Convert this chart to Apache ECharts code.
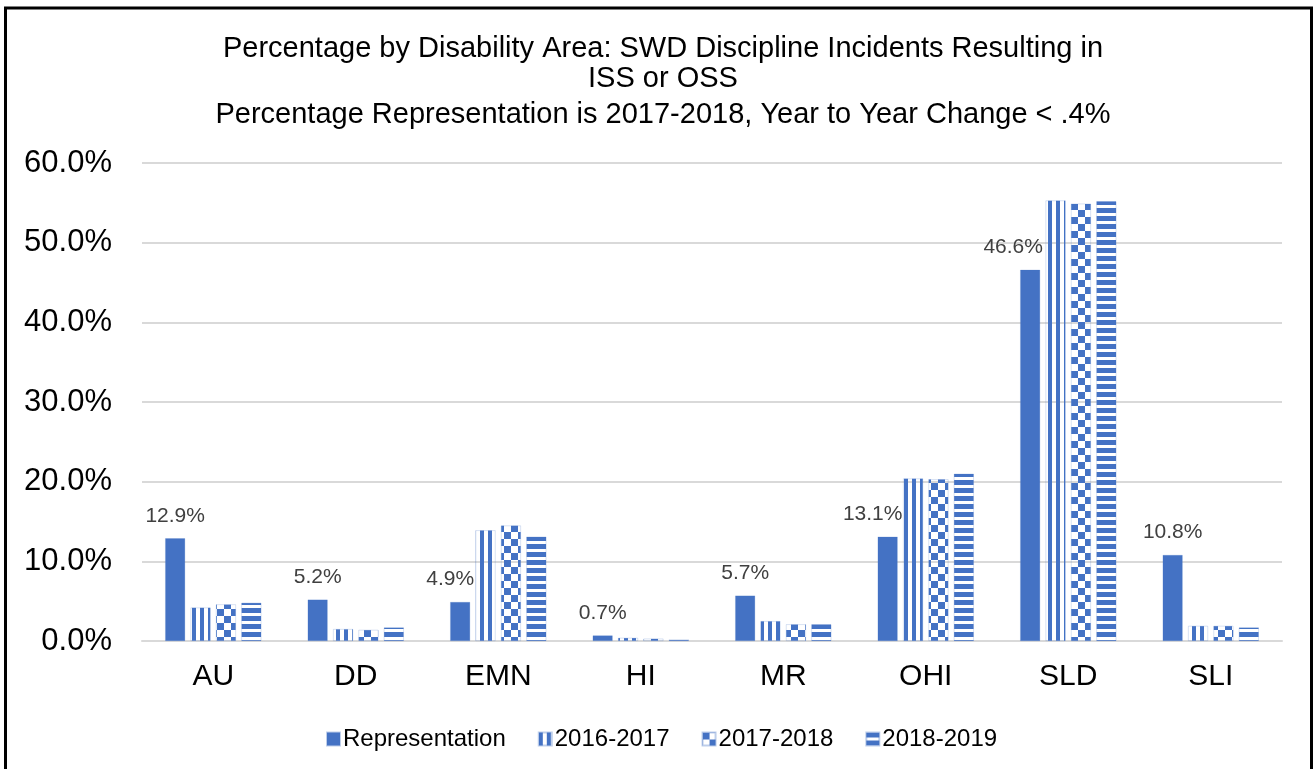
<!DOCTYPE html>
<html>
<head>
<meta charset="utf-8">
<style>
  html, body { margin: 0; padding: 0; background: #fff; }
  #chart { width: 1316px; height: 769px; }
</style>
</head>
<body>
<div id="chart"></div>
<script src="https://cdn.jsdelivr.net/npm/echarts@6/dist/echarts.min.js"></script>
<script>
var categories = ['AU', 'DD', 'EMN', 'HI', 'MR', 'OHI', 'SLD', 'SLI'];
var seriesNames = ['Representation', '2016-2017', '2017-2018', '2018-2019'];
var representation = [12.9, 5.2, 4.9, 0.7, 5.7, 13.1, 46.6, 10.8];
var y2016 = [4.2, 1.5, 13.9, 0.4, 2.5, 20.4, 55.3, 1.9];
var y2017 = [4.6, 1.4, 14.5, 0.3, 2.1, 20.3, 54.9, 1.9];
var y2018 = [4.8, 1.7, 13.1, 0.2, 2.1, 21.0, 55.2, 1.7];
// excel nudges some labels left so they clear the taller bar next door
var labelShift = [0, 0, -10, 0, 0, -15, -17, 0];

var blue = '#4472C4';
var font = '"Liberation Sans", Arial, sans-serif';

function pattern(kind) {
  var c = document.createElement('canvas');
  var ctx;
  if (kind === 'vertical') {
    c.width = 8; c.height = 8;
    ctx = c.getContext('2d');
    ctx.fillStyle = blue;
    ctx.fillRect(0, 0, 4, 8);
  } else if (kind === 'checker') {
    c.width = 14; c.height = 14;
    ctx = c.getContext('2d');
    ctx.fillStyle = blue;
    ctx.fillRect(0, 0, 7, 7);
    ctx.fillRect(7, 7, 7, 7);
  } else {
    c.width = 8; c.height = 8;
    ctx = c.getContext('2d');
    ctx.fillStyle = blue;
    ctx.fillRect(0, 0, 8, 5);
  }
  return { image: c, repeat: 'repeat' };
}

var myChart = echarts.init(document.getElementById('chart'), null, { renderer: 'canvas' });

var repData = representation.map(function (v, i) {
  return { value: v, label: { offset: [labelShift[i], 0] } };
});

function barSeries(name, data, color) {
  return {
    name: name,
    type: 'bar',
    barWidth: 20,
    barGap: '27%',
    data: data,
    itemStyle: { color: color, borderColor: 'rgba(68,114,196,0.35)', borderWidth: 0.6 },
    emphasis: { disabled: true }
  };
}

var rep = barSeries(seriesNames[0], repData, blue);
rep.label = {
  show: true,
  position: 'top',
  distance: 12,
  fontSize: 21,
  fontFamily: font,
  color: '#404040',
  formatter: function (p) { return p.value.toFixed(1) + '%'; }
};

option = {
  animation: false,
  backgroundColor: '#fff',
  title: {
    text: '{a|Percentage by Disability Area: SWD Discipline Incidents Resulting in}\n{a|ISS or OSS}\n{b|Percentage Representation is 2017-2018, Year to Year Change < .4%}',
    left: 658,
    top: 29,
    textAlign: 'center',
    textStyle: {
      fontWeight: 'normal',
      rich: {
        a: { fontSize: 29, fontWeight: 'normal', fontFamily: font, color: '#000', lineHeight: 30 },
        b: { fontSize: 29, fontWeight: 'normal', fontFamily: font, color: '#000', lineHeight: 42 }
      }
    }
  },
  legend: {
    data: seriesNames,
    left: 321,
    top: 722,
    itemWidth: 13,
    itemHeight: 13,
    itemGap: 32,
    icon: 'rect',
    selectedMode: false,
    textStyle: { fontSize: 24, fontFamily: font, color: '#000', padding: [0, 0, 0, -2] }
  },
  grid: {
    left: 142,
    right: 34,
    top: 163,
    bottom: 128,
    containLabel: false,
    outerBoundsMode: 'none'
  },
  xAxis: {
    type: 'category',
    data: categories,
    axisLine: { show: true, lineStyle: { color: '#d9d9d9', width: 2 } },
    axisTick: { show: false },
    axisLabel: { fontSize: 30, fontFamily: font, color: '#000', margin: 21 }
  },
  yAxis: {
    type: 'value',
    min: 0,
    max: 60,
    interval: 10,
    axisLine: { show: false },
    axisTick: { show: false },
    splitLine: { lineStyle: { color: '#d9d9d9', width: 2 } },
    axisLabel: {
      fontSize: 31,
      fontFamily: font,
      color: '#000',
      margin: 30,
      formatter: function (v) { return v.toFixed(1) + '%'; }
    }
  },
  graphic: [
    {
      type: 'rect',
      silent: true,
      z: 100,
      shape: { x: 5.5, y: 8, width: 1306, height: 800 },
      style: { fill: 'none', stroke: '#000', lineWidth: 3 }
    }
  ],
  series: [
    rep,
    barSeries(seriesNames[1], y2016, pattern('vertical')),
    barSeries(seriesNames[2], y2017, pattern('checker')),
    barSeries(seriesNames[3], y2018, pattern('horizontal'))
  ]
};
myChart.setOption(option);
</script>
</body>
</html>
